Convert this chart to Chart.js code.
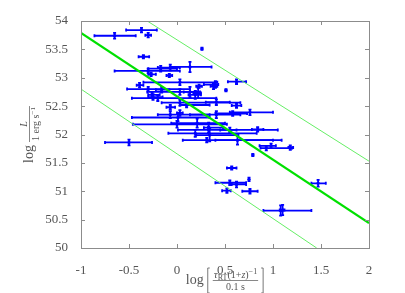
<!DOCTYPE html>
<html>
<head>
<meta charset="utf-8">
<script src="https://cdn.jsdelivr.net/npm/chart.js@4"></script>
<style>
	html, body { margin: 0; padding: 0; background: #fff; }
	canvas { display: block; }
</style>
</head>
<body>
<canvas id="chart" width="405" height="293"></canvas>
<script>
// points: centre, x error range, symmetric y error
const xVal = [-0.65, -0.37, -0.30, 0.26, -0.35, 0.135, -0.07, -0.17, -0.30, -0.27, -0.08, 0.03, 0.62, -0.39, 0.40, 0.38, 0.23, 0.51, -0.30, -0.16, 0.03, 0.135, 0.22, -0.26, 0.19, -0.20, -0.25, 0.03, 0.41, 0.10, 0.62, -0.07, 0.76, 0.58, 0.41, -0.07, 0.03, 0.01, 0.21, 0.00, 0.33, 0.55, 0.84, 0.33, 0.19, 0.34, 0.31, 0.63, -0.50, 0.98, 0.93, 1.18, 0.79, 0.57, 0.75, 0.55, 0.62, 1.47, 0.52, 0.76, 1.08, 1.10];
const yVal = [53.74, 53.84, 53.75, 53.51, 53.37, 53.19, 53.18, 53.16, 53.12, 53.06, 53.04, 52.92, 52.93, 52.87, 52.88, 52.85, 52.85, 52.78, 52.80, 52.79, 52.75, 52.75, 52.73, 52.70, 52.70, 52.64, 52.66, 52.56, 52.57, 52.52, 52.51, 52.48, 52.39, 52.37, 52.35, 52.35, 52.38, 52.30, 52.20, 52.18, 52.12, 52.08, 52.09, 52.08, 52.02, 51.99, 51.90, 51.90, 51.86, 51.80, 51.76, 51.77, 51.64, 51.41, 51.21, 51.15, 51.12, 51.14, 51.01, 51.00, 50.66, 50.67];
const xLo = [-0.86, -0.53, -0.33, 0.26, -0.40, -0.07, -0.20, -0.30, -0.65, -0.30, -0.11, -0.35, 0.53, -0.42, 0.28, 0.35, 0.20, 0.51, -0.52, -0.22, -0.31, 0.07, 0.17, -0.30, 0.12, -0.47, -0.30, -0.16, 0.30, 0.03, 0.57, -0.11, 0.55, 0.40, 0.135, -0.20, 0.00, -0.47, -0.06, -0.46, 0.28, 0.45, 0.78, 0.01, -0.09, 0.20, 0.06, 0.40, -0.75, 0.86, 0.87, 1.16, 0.79, 0.52, 0.75, 0.40, 0.57, 1.40, 0.47, 0.68, 0.90, 1.07];
const xHi = [-0.43, -0.21, -0.27, 0.26, -0.29, 0.36, 0.03, 0.00, 0.03, -0.22, -0.05, 0.42, 0.72, -0.35, 0.43, 0.42, 0.26, 0.51, 0.135, -0.08, 0.24, 0.20, 0.25, -0.18, 0.25, 0.41, -0.15, 0.66, 0.55, 0.34, 0.67, -0.02, 1.00, 0.73, 0.66, 0.34, 0.06, 0.34, 0.50, 0.52, 0.48, 0.62, 0.90, 1.05, 0.83, 0.64, 1.09, 1.00, -0.26, 1.03, 1.20, 1.21, 0.79, 0.62, 0.75, 0.72, 0.72, 1.55, 0.56, 0.84, 1.40, 1.12];
const yErr = [0.05, 0.04, 0.04, 0.02, 0.03, 0.09, 0.05, 0.05, 0.04, 0.03, 0.03, 0.05, 0.04, 0.04, 0.06, 0.05, 0.03, 0.02, 0.04, 0.05, 0.05, 0.09, 0.09, 0.04, 0.07, 0.05, 0.05, 0.05, 0.05, 0.04, 0.04, 0.04, 0.05, 0.04, 0.06, 0.06, 0.05, 0.07, 0.08, 0.06, 0.09, 0.04, 0.04, 0.06, 0.06, 0.11, 0.04, 0.08, 0.05, 0.04, 0.04, 0.04, 0.02, 0.03, 0.03, 0.04, 0.05, 0.06, 0.04, 0.04, 0.09, 0.09];

// fitted relation and its two bounds (end points)
const fitX = [-1, 2];
const fitY = [53.79, 50.44];
const upperX = [-0.31, 2];
const upperY = [54, 51.53];
const lowerX = [-1, 1.455];
const lowerY = [52.8, 50];

const xTicks = [-1, -0.5, 0, 0.5, 1, 1.5, 2];
const yTicks = [50, 50.5, 51, 51.5, 52, 52.5, 53, 53.5, 54];

const SERIF = '"Liberation Serif", "DejaVu Serif", serif';
const TEXT = '#555555';

function pairs(xs, ys) {
	return xs.map((x, i) => { return { x: x, y: ys[i] } });
}

const errorBars = {
	id: 'errorBars',
	beforeDatasetsDraw(chart) {
		let ctx = chart.ctx, sx = chart.scales.x, sy = chart.scales.y;
		ctx.save();
		ctx.beginPath();
		ctx.rect(chart.chartArea.left, chart.chartArea.top, chart.chartArea.width, chart.chartArea.height);
		ctx.clip();
		ctx.strokeStyle = '#0000ff';
		ctx.lineWidth = 1.8;
		xVal.forEach((x, i) => {
			let px = sx.getPixelForValue(x), py = sy.getPixelForValue(yVal[i]);
			let pl = sx.getPixelForValue(xLo[i]), pr = sx.getPixelForValue(xHi[i]);
			let pt = sy.getPixelForValue(yVal[i] + yErr[i]), pb = sy.getPixelForValue(yVal[i] - yErr[i]);
			ctx.beginPath();
			if (pr - pl > 1) {
				ctx.moveTo(pl, py); ctx.lineTo(pr, py);
				ctx.moveTo(pl, py - 1.5); ctx.lineTo(pl, py + 1.5);
				ctx.moveTo(pr, py - 1.5); ctx.lineTo(pr, py + 1.5);
			}
			ctx.moveTo(px, pt); ctx.lineTo(px, pb);
			ctx.moveTo(px - 1.5, pt); ctx.lineTo(px + 1.5, pt);
			ctx.moveTo(px - 1.5, pb); ctx.lineTo(px + 1.5, pb);
			ctx.stroke();
		});
		ctx.restore();
	}
};

const frame = {
	id: 'frame',
	afterDraw(chart) {
		let ctx = chart.ctx, a = chart.chartArea, sx = chart.scales.x, sy = chart.scales.y;
		ctx.save();
		ctx.strokeStyle = '#8c8c8c';
		ctx.lineWidth = 1;
		ctx.strokeRect(Math.round(a.left) + 0.5, Math.round(a.top) + 0.5, Math.round(a.width), Math.round(a.height));
		ctx.beginPath();
		xTicks.forEach((t) => {
			let p = Math.round(sx.getPixelForValue(t)) + 0.5;
			ctx.moveTo(p, a.bottom); ctx.lineTo(p, a.bottom - 4);
			ctx.moveTo(p, a.top); ctx.lineTo(p, a.top + 4);
		});
		yTicks.forEach((t) => {
			let p = Math.round(sy.getPixelForValue(t)) + 0.5;
			ctx.moveTo(a.left, p); ctx.lineTo(a.left + 4, p);
			ctx.moveTo(a.right, p); ctx.lineTo(a.right - 4, p);
		});
		ctx.stroke();
		ctx.restore();
	}
};

// runs: [text, size, dy, italic]
function runsWidth(ctx, runs) {
	let w = 0;
	runs.forEach((r) => {
		ctx.font = (r[3] ? 'italic ' : '') + r[1] + 'px ' + SERIF;
		w += ctx.measureText(r[0]).width;
	});
	return w;
}

function drawRuns(ctx, runs, x, y) {
	runs.forEach((r) => {
		ctx.font = (r[3] ? 'italic ' : '') + r[1] + 'px ' + SERIF;
		ctx.fillText(r[0], x, y + r[2]);
		x += ctx.measureText(r[0]).width;
	});
	return x;
}

function drawTitle(ctx, pre, preSize, num, den, brackets) {
	ctx.font = preSize + 'px ' + SERIF;
	let wPre = ctx.measureText(pre).width + 3;
	let wNum = runsWidth(ctx, num), wDen = runsWidth(ctx, den);
	let wFrac = Math.max(wNum, wDen) + 2;
	let wBr = brackets ? 6 : 0;
	let total = wPre + wFrac + wBr * 2;
	let x = -total / 2;
	ctx.textBaseline = 'alphabetic';
	ctx.font = preSize + 'px ' + SERIF;
	ctx.fillText(pre, x, 4);
	x += wPre;
	if (brackets) {
		ctx.lineWidth = 0.8;
		ctx.beginPath();
		ctx.moveTo(x + 3, -12); ctx.lineTo(x + 1, -12); ctx.lineTo(x + 1, 13); ctx.lineTo(x + 3, 13);
		let xr = x + wBr + wFrac + wBr;
		ctx.moveTo(xr - 3, -12); ctx.lineTo(xr - 1, -12); ctx.lineTo(xr - 1, 13); ctx.lineTo(xr - 3, 13);
		ctx.stroke();
		x += wBr;
	}
	drawRuns(ctx, num, x + (wFrac - wNum) / 2, -2);
	ctx.lineWidth = 0.7;
	ctx.beginPath();
	ctx.moveTo(x, 0.5); ctx.lineTo(x + wFrac, 0.5);
	ctx.stroke();
	drawRuns(ctx, den, x + (wFrac - wDen) / 2, 10);
}

const axisTitles = {
	id: 'axisTitles',
	afterDraw(chart) {
		let ctx = chart.ctx, a = chart.chartArea;
		ctx.save();
		ctx.fillStyle = TEXT;
		ctx.strokeStyle = TEXT;
		ctx.translate((a.left + a.right) / 2, 280);
		drawTitle(ctx, 'log', 14,
			[['τ', 11, 0, true], ['RT', 8, 1.5, false], ['(1+', 10, 0, false], ['z', 10, 0, true], [')', 10, 0, false], ['−1', 8, -4, false]],
			[['0.1 s', 10, 0, false]], true);
		ctx.restore();

		ctx.save();
		ctx.fillStyle = TEXT;
		ctx.strokeStyle = TEXT;
		ctx.translate(29, (a.top + a.bottom) / 2);
		ctx.rotate(-Math.PI / 2);
		drawTitle(ctx, 'log', 14,
			[['L', 10, 0, true]],
			[['1 erg s', 10, 0, false], ['−1', 7, -4, false]], false);
		ctx.restore();
	}
};

function tickLabel(v) {
	return String(v);
}

new Chart(document.getElementById('chart'), {
	type: 'scatter',
	data: {
		datasets: [
			{ data: pairs(fitX, fitY), showLine: true, borderColor: '#00e000', borderWidth: 2.2, pointRadius: 0 },
			{ data: pairs(upperX, upperY), showLine: true, borderColor: '#66ee66', borderWidth: 1, pointRadius: 0 },
			{ data: pairs(lowerX, lowerY), showLine: true, borderColor: '#66ee66', borderWidth: 1, pointRadius: 0 },
			{ data: pairs(xVal, yVal), pointRadius: 1.7, backgroundColor: '#0000ff', borderWidth: 0 },
		]
	},
	options: {
		responsive: false,
		animation: false,
		layout: { padding: { top: 21, right: 36, left: 0, bottom: 0 } },
		plugins: { legend: { display: false }, tooltip: { enabled: false } },
		scales: {
			x: {
				type: 'linear', min: -1, max: 2,
				ticks: { stepSize: 0.5, color: TEXT, padding: 7, font: { family: SERIF, size: 13 }, callback: tickLabel, maxRotation: 0 },
				grid: { display: false }, border: { display: false },
				afterFit(s) { s.height = 45; }
			},
			y: {
				type: 'linear', min: 50, max: 54,
				ticks: { stepSize: 0.5, color: TEXT, padding: 5, font: { family: SERIF, size: 13 }, callback: tickLabel },
				grid: { display: false }, border: { display: false },
				afterFit(s) { s.width = 81; }
			}
		}
	},
	plugins: [errorBars, frame, axisTitles]
});
</script>
</body>
</html>
